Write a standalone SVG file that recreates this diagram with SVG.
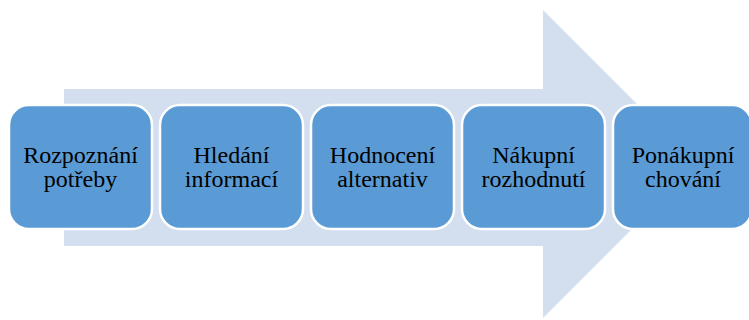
<svg xmlns="http://www.w3.org/2000/svg" width="749" height="320" viewBox="0 0 749 320">
  <style>
    .step rect { fill: #5B9BD5; stroke: #FFFFFF; stroke-width: 2.5; }
    .step text { font-family: "Liberation Serif", "Times New Roman", serif; font-size: 24px; fill: #000000; text-anchor: middle; }
  </style>
  <rect width="749" height="320" fill="#FFFFFF"/>
  <!-- background process arrow -->
  <g id="connectors">
    <polygon points="64,89 543,89 543,10 697,164 543,318 543,246 64,246" fill="#D3DEEF"/>
  </g>
  <g id="step1" class="step">
    <rect x="9" y="105" width="143" height="124" rx="20" ry="20"/>
    <text x="80.5" y="163">Rozpoznání</text>
    <text x="80.5" y="187">potřeby</text>
  </g>
  <g id="step2" class="step">
    <rect x="160" y="105" width="143" height="124" rx="20" ry="20"/>
    <text x="231.5" y="163">Hledání</text>
    <text x="231.5" y="187">informací</text>
  </g>
  <g id="step3" class="step">
    <rect x="311" y="105" width="143" height="124" rx="20" ry="20"/>
    <text x="382.5" y="163">Hodnocení</text>
    <text x="382.5" y="187">alternativ</text>
  </g>
  <g id="step4" class="step">
    <rect x="462" y="105" width="143" height="124" rx="20" ry="20"/>
    <text x="533.5" y="163">Nákupní</text>
    <text x="533.5" y="187">rozhodnutí</text>
  </g>
  <g id="step5" class="step">
    <rect x="613" y="105" width="139" height="124" rx="20" ry="20"/>
    <text x="683" y="163">Ponákupní</text>
    <text x="683" y="187">chování</text>
  </g>
</svg>
